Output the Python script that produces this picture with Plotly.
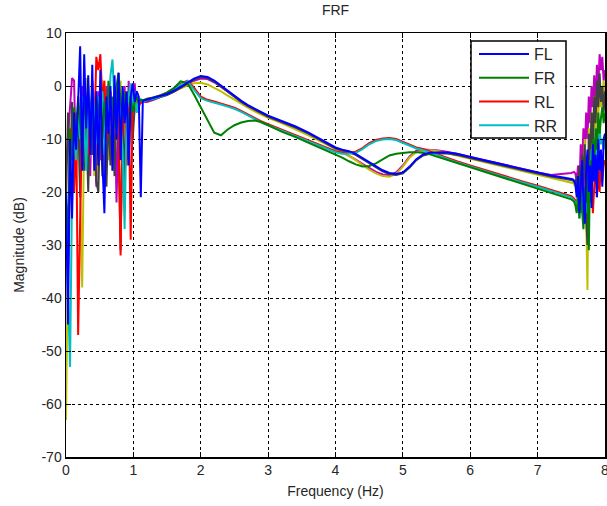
import plotly.graph_objects as go

# Frequency grids (Hz)
f_low = [0.00, 0.03, 0.06, 0.09, 0.12, 0.15, 0.18, 0.21, 0.24, 0.27, 0.30, 0.33, 0.36,
         0.39, 0.42, 0.45, 0.48, 0.51, 0.54, 0.57, 0.60, 0.63, 0.66, 0.69, 0.72, 0.75,
         0.78, 0.81, 0.84, 0.87, 0.90, 0.93, 0.96, 0.99, 1.02, 1.05, 1.08, 1.11, 1.14]
f_mid = [1.2, 1.3, 1.4, 1.5, 1.6, 1.7, 1.8, 1.9, 2.0, 2.1, 2.2, 2.3, 2.4, 2.5, 2.6, 2.7,
         2.8, 2.9, 3.0, 3.2, 3.4, 3.6, 3.8, 4.0, 4.1, 4.2, 4.3, 4.4, 4.5, 4.6, 4.7, 4.8,
         4.9, 5.0, 5.1, 5.2, 5.3, 5.4, 5.5, 5.6, 5.7, 5.8, 6.0, 6.2, 6.4, 6.6, 6.8, 7.0,
         7.2, 7.4, 7.5]
f_high = [7.52, 7.54, 7.56, 7.58, 7.60, 7.62, 7.64, 7.66, 7.68, 7.70, 7.72, 7.74, 7.76,
          7.78, 7.80, 7.82, 7.84, 7.86, 7.88, 7.90, 7.92, 7.94, 7.96, 7.98, 8.00]

# Magnitudes (dB)
FL_low = [-20, -45, -10, -25, -5, -12, -3, 7.5, -16, 6, -8, 2, -13, 4, -16, -1, -15, 3, -14, -24,
          -2, -9, 0, -16, 2, -10, 2.5, -14, 0, -7, -1, -15, -2, 0.5, -3, -1, -2, -21, -2.8]
FL_mid = [-2.6, -2.3, -1.9, -1.5, -0.9, -0.2, 0.6, 1.4, 1.9, 1.7, 1.0, 0.1, -0.9, -1.9, -2.8,
          -3.6, -4.3, -5.0, -5.6, -6.6, -7.6, -8.8, -10.2, -11.6, -12.0, -12.3, -12.8, -13.6,
          -14.4, -15.2, -15.9, -16.4, -16.6, -16.3, -15.2, -13.8, -12.9, -12.6, -12.5, -12.5,
          -12.6, -12.8, -13.4, -14.0, -14.6, -15.2, -15.8, -16.3, -16.9, -17.3, -17.5]
FL_high = [-17.6, -17.8, -18.5, -21, -17, -24, -19, -14, -22, -26, -16, -12, -20, -15, -23,
           -11, -18, -13, -21, -10, -16, -12, -19, -10, -9]

FR_low = [-20, -30, -8, -14, -4, -10, -2, -7, -12, -3, -6, 0, -9, -4, -11, -2, -6, -1, -10, -3,
          -7, 1, -5, -2, -8, 0, 2.5, -3, -6, -1, -4, -8, -2, -5, -3, -2, -3, -2.6, -2.7]
FR_mid = [-2.5, -2.2, -1.8, -1.2, -0.4, 0.9, 0.6, -1.6, -4.0, -6.4, -8.8, -9.3, -8.2, -7.4, -6.9,
          -6.6, -6.5, -6.8, -7.4, -8.6, -9.6, -10.7, -11.9, -13.0, -13.5, -14.2, -14.8, -15.2,
          -15.1, -14.6, -13.8, -13.1, -12.8, -12.6, -12.5, -12.5, -12.6, -12.9, -13.3, -13.8,
          -14.2, -14.6, -15.4, -16.2, -17.0, -17.8, -18.6, -19.4, -20.2, -20.9, -21.4]
FR_high = [-21.6, -21.8, -22.5, -24, -21, -25, -20, -23, -27, -19, -22, -17, -31, -14, -22,
           -10, -15, -8, -12, -5, -9, -6, -4, -7, -5]

RL_low = [-22, -35, -15, -8, -20, -5, -47, -28, -4, -10, -2, -13, -6, -1, -9, 5.5, 3, 6, -3, 1,
          -10, -4, -1, -12, -5, -3, -8, -32, -6, -2, -15, -1, -29, -3, -4, -2.5, -3, -3.2, -2.8]
RL_mid = [-2.4, -2.2, -1.8, -1.3, -0.6, 0.4, 1.0, -0.3, -2.0, -2.6, -2.9, -3.3, -3.7, -4.1, -4.7,
          -5.4, -6.1, -6.7, -7.2, -8.2, -9.2, -10.2, -11.2, -12.3, -12.6, -12.6, -12.4, -11.7,
          -10.8, -10.2, -9.9, -9.8, -10.0, -10.5, -11.1, -11.6, -11.9, -12.3, -12.8, -13.3,
          -13.8, -14.2, -15.0, -15.8, -16.5, -17.3, -18.1, -18.8, -19.6, -20.3, -20.8]
RL_high = [-21, -21.2, -21.6, -22.5, -20, -23, -19, -22, -18, -21, -16, -20, -15, -22, -17,
           -24, -19, -14, -21, -16, -20, -13, -18, -15, -14]

RR_low = [-25, -40, -53, -20, -8, -14, -4, -10, -2, -7, -16, -3, -8, 0, -5, -11, -2, -7, -1, -13,
          -4, -8, 2, 5, -3, -9, -1, -6, -12, -27, -5, -2, 0.5, -4, -1, -5, -3, -2.5, -3]
RR_mid = [-2.6, -2.4, -2.0, -1.5, -0.8, 0.2, 0.9, -0.6, -2.3, -2.8, -3.1, -3.5, -3.9, -4.3, -4.9,
          -5.6, -6.3, -6.9, -7.4, -8.4, -9.4, -10.4, -11.4, -12.5, -12.8, -12.8, -12.6, -11.9,
          -11.0, -10.4, -10.1, -10.0, -10.2, -10.7, -11.3, -11.8, -12.1, -12.5, -13.0, -13.5,
          -14.0, -14.4, -15.2, -16.0, -16.7, -17.5, -18.3, -19.0, -19.8, -20.5, -21.0]
RR_high = [-21.2, -21.5, -22, -23.5, -20, -25, -21, -24, -19, -22, -17, -24, -15, -20, -12,
           -18, -10, -15, -9, -13, -8, -11, -10, -12, -9]

M5_low = [-15, -10, -4, 1.5, 1, -16, -2, -9, 0, -15, -12, -2, -17, 1, -4, -19, -1, -14, -3, -16,
          0, -8, -3, -10, -1, -22, -5, -2, -9, 0, -14, 1, -6, -2, 0.5, -5, -4, -2.9, -3]
M5_mid = [-3.0, -2.6, -2.1, -1.6, -1.0, -0.3, 0.4, 1.0, 1.4, 1.3, 0.7, -0.2, -1.1, -2.0, -2.9,
          -3.7, -4.4, -5.1, -5.7, -6.8, -7.8, -9.0, -10.4, -11.8, -12.4, -13.1, -13.9, -14.7,
          -15.5, -16.2, -16.7, -16.8, -16.3, -15.0, -13.3, -12.2, -12.0, -12.0, -12.1, -12.3,
          -12.5, -12.8, -13.4, -14.0, -14.6, -15.2, -15.8, -16.3, -16.8, -16.6, -16.4]
M5_high = [-16.3, -16.2, -16.5, -18, -15, -19, -11, -16, -8, -13, -5, -10, -2, -7, 0, -4, 2,
           -3, 4, 0, 6, 3, 5.5, 1, 3]

M6_low = [-63, -30, -12, -22, -6, -15, -3, -24, -38, -8, 1.5, -15, -12, 0, -17, -3, -16, -2, 1, -18,
          -4, -14, -1, -16, 0, -10, -3, 1, -17, -2, -11, -4, -1, -6, -2, -3.5, -3, -2.7, -3]
M6_mid = [-2.7, -2.4, -2.0, -1.6, -1.0, -0.4, 0.1, 0.5, 0.6, 0.3, -0.3, -1.0, -1.8, -2.6, -3.4,
          -4.1, -4.8, -5.4, -6.0, -7.0, -8.1, -9.3, -10.6, -11.9, -12.5, -13.2, -14.0, -14.9,
          -15.8, -16.5, -17.0, -17.1, -16.6, -15.2, -13.5, -12.5, -12.2, -12.1, -12.2, -12.5,
          -12.8, -13.1, -13.8, -14.4, -15.0, -15.6, -16.2, -16.8, -17.4, -17.9, -18.2]
M6_high = [-18.3, -18.5, -19, -17.5, -20, -16, -22, -14, -19, -10, -24, -38.5, -8, -15, -5,
           -12, -2, -8, -1, -6, 0, -4, -2, 1, -3]

M7_low = [-22, -5, -18, -3, -19, -14, -4, -21, -2, -16, -6, -20, -3, -13, -5, -18, -20, -4, -17,
          -2, -19, -5, -15, -3, -17, -1, -11, -31, -4, -19, -2, -14, -3, -10, -4, -2, -3.5, -3, -2.9]
M7_mid = [-2.8, -2.5, -2.1, -1.7, -1.1, -0.4, 0.4, 1.2, 1.7, 1.5, 0.8, -0.1, -1.1, -2.1, -3.0,
          -3.8, -4.5, -5.2, -5.8, -6.8, -7.8, -9.0, -10.4, -11.8, -12.2, -12.5, -13.0, -13.8,
          -14.6, -15.4, -16.1, -16.6, -16.8, -16.5, -15.4, -14.0, -13.1, -12.8, -12.7, -12.7,
          -12.8, -13.0, -13.6, -14.2, -14.8, -15.4, -16.0, -16.5, -17.1, -17.5, -17.7]
M7_high = [-17.8, -18, -18.5, -17, -20, -15, -22, -13, -18, -11, -25, -30, -9, -14, -5, -11,
           -2, -7, 1, -4, 2.4, -3, 0, -5, -1]

legend_names = ["FL", "FR", "RL", "RR"]
x_ticks = [0, 1, 2, 3, 4, 5, 6, 7, 8]
y_ticks = [-70, -60, -50, -40, -30, -20, -10, 0, 10]

freq = f_low + f_mid + f_high
series = [
    # (name, values, colour, in legend, legend rank) -- listed in drawing order
    ("m", M5_low + M5_mid + M5_high, "#BF00BF", False, 5),
    ("y", M6_low + M6_mid + M6_high, "#BFBF00", False, 6),
    ("k", M7_low + M7_mid + M7_high, "#404040", False, 7),
    ("RL", RL_low + RL_mid + RL_high, "#FF0000", True, 3),
    ("RR", RR_low + RR_mid + RR_high, "#00BFBF", True, 4),
    ("FR", FR_low + FR_mid + FR_high, "#008000", True, 2),
    ("FL", FL_low + FL_mid + FL_high, "#0000FF", True, 1),
]

fig = go.Figure()
for name, vals, col, inleg, rank in series:
    fig.add_trace(go.Scatter(
        x=freq, y=vals, mode="lines", name=name,
        line=dict(color=col, width=2),
        showlegend=inleg, legendrank=rank,
    ))

axis_common = dict(
    showgrid=True, gridcolor="black", gridwidth=1, griddash="3px,3px",
    showline=True, linecolor="black", linewidth=1.5, mirror="ticks",
    ticks="inside", ticklen=5, tickcolor="black", tickwidth=1,
    zeroline=False, automargin=False, ticklabeloverflow="allow",
    tickfont=dict(size=14, color="#262626"),
)

fig.update_xaxes(range=[0, 8], tickvals=x_ticks, ticktext=[str(v) for v in x_ticks],
                 title=dict(text="Frequency (Hz)", standoff=9, font=dict(size=14)),
                 **axis_common)
fig.update_yaxes(range=[-70, 10], tickvals=y_ticks, ticktext=[str(v) for v in y_ticks],
                 title=dict(text="Magnitude (dB)", standoff=13, font=dict(size=14)),
                 **axis_common)

# legend frame (MATLAB-style box) drawn as a shape; legend entries sit on top of it
fig.add_shape(type="rect", xref="paper", yref="paper",
              x0=(471 - 66) / 539, x1=(566 - 66) / 539,
              y0=(457 - 138) / 424, y1=(457 - 41) / 424,
              line=dict(color="black", width=1.5), fillcolor="white", layer="above")

fig.update_layout(
    template="none",
    width=607, height=506,
    margin=dict(l=66, r=2, t=33, b=49),
    plot_bgcolor="white", paper_bgcolor="white",
    font=dict(family="Liberation Sans, Arial, sans-serif", size=14, color="#262626"),
    title=dict(text="FRF", x=0.5, xref="paper", xanchor="center",
               y=1 - 10 / 506, yanchor="middle", font=dict(size=14)),
    showlegend=True,
    legend=dict(x=(474 - 66) / 539, y=(457 - 37) / 424, xanchor="left", yanchor="top",
                bgcolor="rgba(0,0,0,0)", borderwidth=0,
                font=dict(size=16, color="#262626"), itemwidth=50,
                traceorder="normal"),
)

fig.write_html("out.html", config={"displayModeBar": False, "staticPlot": True},
               post_script="document.body.style.margin='0';document.body.style.overflow='hidden';")
